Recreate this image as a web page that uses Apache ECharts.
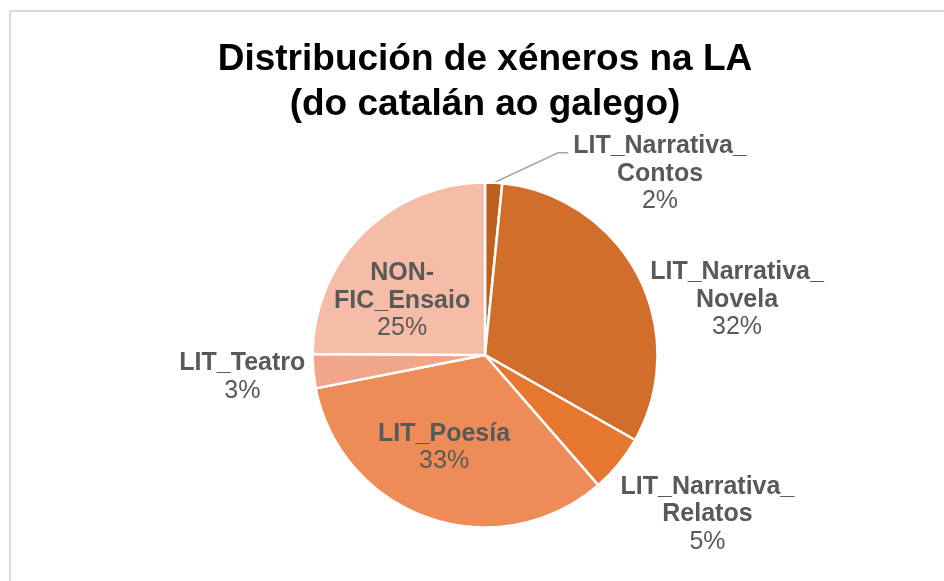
<!DOCTYPE html>
<html>
<head>
<meta charset="utf-8">
<script src="https://cdn.jsdelivr.net/npm/echarts@6/dist/echarts.min.js"></script>
<style>
html,body{margin:0;padding:0;background:#ffffff;}
#chart{width:944px;height:581px;}
</style>
</head>
<body>
<div id="chart"></div>
<script>
// ---- data ----
const titleLines = ['Distribución de xéneros na LA', '(do catalán ao galego)'];
const categories = [
  'LIT_Narrativa_Contos',
  'LIT_Narrativa_Novela',
  'LIT_Narrativa_Relatos',
  'LIT_Poesía',
  'LIT_Teatro',
  'NON-FIC_Ensaio'
];
const shares = [1.6, 31.6, 5.4, 33.3, 3.2, 24.9];

// ---- presentation ----
const palette = ['#C0601F', '#D26E2B', '#E6772E', '#EE8C58', '#F2A689', '#F5BCA7'];
const insideLabel = { 'LIT_Poesía': true, 'NON-FIC_Ensaio': true };
const labelNudge = [[0, 21], [7, 24], [-3, 50], [-12, 8], [-3, 6], [-20, 9]];

function wrapName(name) {
  return name.replace(/^(LIT_Narrativa_|NON-)/, '$1\n');
}

const pieData = categories.map(function (name, i) {
  const isFirst = i === 0;
  return {
    name: name,
    value: shares[i],
    label: { position: insideLabel[name] ? 'inside' : 'outside' },
    labelLine: isFirst
      ? { show: true, length: 30, length2: 73 }
      : { show: false, length: 0, length2: 0 }
  };
});

const titleStyle = {
  fontFamily: 'Liberation Sans',
  fontSize: 37,
  fontWeight: 'bold',
  color: '#000000',
  lineHeight: 41
};

const chart = echarts.init(document.getElementById('chart'), null, { renderer: 'canvas' });
chart.setOption({
  animation: false,
  color: palette,
  graphic: [{
    type: 'rect',
    silent: true,
    z: -10,
    shape: { x: 10, y: 11, width: 1000, height: 1000 },
    style: { fill: 'none', stroke: '#D9D9D9', lineWidth: 2 }
  }],
  title: [
    { text: titleLines[0], left: 485, textAlign: 'center', top: 39, padding: 0, textStyle: titleStyle },
    { text: titleLines[1], left: 485, textAlign: 'center', top: 84, padding: 0, textStyle: titleStyle }
  ],
  series: [{
    type: 'pie',
    center: [485, 355],
    radius: 172.5,
    startAngle: 90,
    clockwise: true,
    avoidLabelOverlap: false,
    emphasis: { disabled: true },
    itemStyle: { borderColor: '#ffffff', borderWidth: 2.5 },
    label: {
      color: '#595959',
      fontFamily: 'Liberation Sans',
      formatter: function (p) {
        return '{n|' + wrapName(p.name) + '}\n{p|' + Math.round(p.percent) + '%}';
      },
      rich: {
        n: { fontFamily: 'Liberation Sans', fontSize: 25, fontWeight: 'bold', lineHeight: 27.5, color: '#595959', align: 'center' },
        p: { fontFamily: 'Liberation Sans', fontSize: 25, fontWeight: 'normal', lineHeight: 27.5, color: '#595959', align: 'center' }
      }
    },
    labelLine: { lineStyle: { color: '#A6A6A6', width: 1.5 } },
    labelLayout: function (params) {
      const n = labelNudge[params.dataIndex];
      const out = { dx: n[0], dy: n[1] };
      const pts = params.labelLinePoints;
      if (params.dataIndex === 0 && pts && pts.length === 3) {
        const end = pts[2];
        out.labelLinePoints = [pts[0], [end[0] - 10, end[1]], end];
      }
      return out;
    },
    data: pieData
  }]
});
</script>
</body>
</html>
